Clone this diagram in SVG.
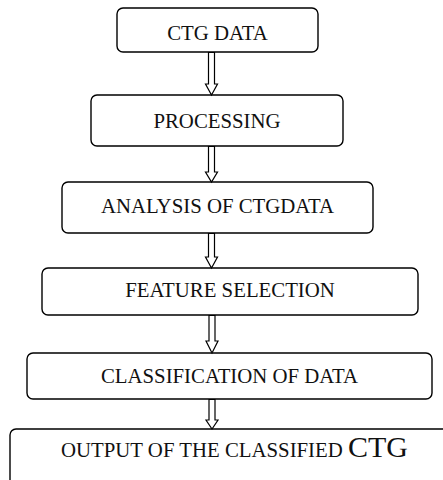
<svg xmlns="http://www.w3.org/2000/svg" width="443" height="480" viewBox="0 0 443 480">
<style>
.box{fill:#fff;stroke:#000;stroke-width:1.4}
.t{font-family:"Liberation Serif","Times New Roman",serif;font-size:20.8px;fill:#111;text-anchor:middle}
.arr{fill:#fff;stroke:#000;stroke-width:1.2;stroke-linejoin:miter}
</style>
<rect width="443" height="480" fill="#fff"/>
<g id="n1"><rect class="box" x="117" y="8" width="201" height="44" rx="6"/><text class="t" x="217.5" y="40">CTG DATA</text></g>
<g id="n2"><rect class="box" x="91" y="95" width="252" height="51" rx="6"/><text class="t" x="217" y="128">PROCESSING</text></g>
<g id="n3"><rect class="box" x="62" y="182" width="311" height="51" rx="6"/><text class="t" x="217.5" y="213">ANALYSIS OF CTGDATA</text></g>
<g id="n4"><rect class="box" x="42" y="268" width="376" height="47" rx="6"/><text class="t" x="230" y="297">FEATURE SELECTION</text></g>
<g id="n5"><rect class="box" x="27" y="353" width="405" height="46" rx="6"/><text class="t" x="229.5" y="383">CLASSIFICATION OF DATA</text></g>
<g id="n6"><rect class="box" x="10" y="429" width="445" height="70" rx="6"/><text class="t" x="234.5" y="457">OUTPUT OF THE CLASSIFIED <tspan font-size="30">CTG</tspan></text></g>
<g id="connectors">
<path class="arr" d="M208.5 52.5 V84 H205.5 L211.5 95 L217.5 84 H214.5 V52.5 Z"/>
<path class="arr" d="M208.5 146.5 V172 H205.5 L211.5 182 L217.5 172 H214.5 V146.5 Z"/>
<path class="arr" d="M208.5 233.5 V257 H205.5 L211.5 268 L217.5 257 H214.5 V233.5 Z"/>
<path class="arr" d="M209 315.5 V341 H206 L212 353 L218 341 H215 V315.5 Z"/>
<path class="arr" d="M209 399.5 V420 H206 L212 429 L218 420 H215 V399.5 Z"/>
</g>
</svg>
